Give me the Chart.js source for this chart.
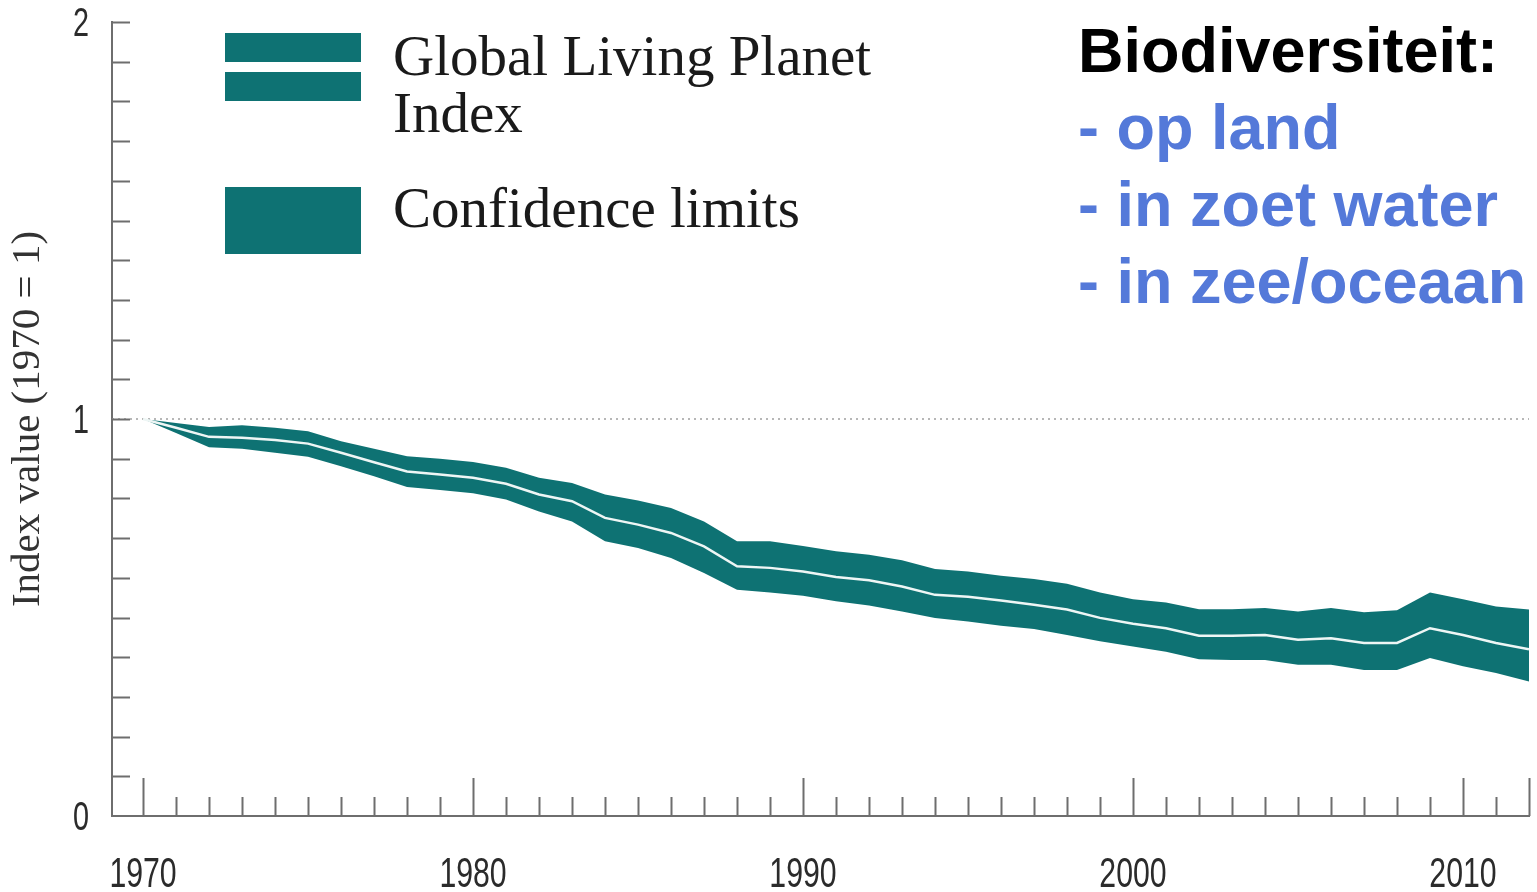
<!DOCTYPE html>
<html>
<head>
<meta charset="utf-8">
<title>Living Planet Index</title>
<script src="https://cdn.jsdelivr.net/npm/chart.js@4.4.1/dist/chart.umd.min.js"></script>
<style>
  html, body { margin: 0; padding: 0; background: #fff; }
  #wrap { position: relative; width: 1537px; height: 892px; }
  #note {
    position: absolute; left: 1078px; top: 12px;
    font: bold 63px/77px "Liberation Sans", Arial, sans-serif;
    color: #5479d9; white-space: nowrap;
  }
  #note .head { color: #000; }
</style>
</head>
<body>
<div id="wrap">
  <canvas id="lpi"></canvas>
  <div id="note">
    <div class="head">Biodiversiteit:</div>
    <div>- op land</div>
    <div>- in zoet water</div>
    <div>- in zee/oceaan</div>
  </div>
</div>
<script>
// data
var years = [1970, 1971, 1972, 1973, 1974, 1975, 1976, 1977, 1978, 1979,
  1980, 1981, 1982, 1983, 1984, 1985, 1986, 1987, 1988, 1989,
  1990, 1991, 1992, 1993, 1994, 1995, 1996, 1997, 1998, 1999,
  2000, 2001, 2002, 2003, 2004, 2005, 2006, 2007, 2008, 2009,
  2010, 2011, 2012];

var lpi = [1.000, 0.978, 0.955, 0.953, 0.947, 0.938, 0.915, 0.891, 0.868, 0.860,
  0.852, 0.837, 0.810, 0.793, 0.751, 0.734, 0.713, 0.679, 0.629, 0.625,
  0.616, 0.602, 0.594, 0.578, 0.557, 0.552, 0.543, 0.532, 0.520, 0.499,
  0.484, 0.473, 0.454, 0.454, 0.456, 0.444, 0.448, 0.436, 0.436, 0.473,
  0.456, 0.436, 0.420];

var upper = [1.000, 0.990, 0.980, 0.984, 0.978, 0.969, 0.944, 0.925, 0.906, 0.900,
  0.892, 0.877, 0.852, 0.839, 0.810, 0.795, 0.776, 0.742, 0.692, 0.692,
  0.680, 0.667, 0.658, 0.644, 0.622, 0.616, 0.605, 0.597, 0.585, 0.563,
  0.546, 0.538, 0.521, 0.521, 0.524, 0.515, 0.524, 0.513, 0.518, 0.563,
  0.546, 0.528, 0.520];

var lower = [1.000, 0.965, 0.929, 0.925, 0.915, 0.905, 0.881, 0.856, 0.829, 0.821,
  0.813, 0.797, 0.767, 0.742, 0.692, 0.675, 0.650, 0.612, 0.570, 0.563,
  0.555, 0.541, 0.530, 0.515, 0.499, 0.490, 0.479, 0.471, 0.456, 0.440,
  0.427, 0.414, 0.395, 0.393, 0.393, 0.381, 0.381, 0.368, 0.368, 0.398,
  0.377, 0.360, 0.339];

var xLabels = [1970, 1980, 1990, 2000, 2010];
var yLabels = [0, 1, 2];
var legendLpi = ["Global Living Planet", "Index"];
var legendCi = ["Confidence limits"];

var teal = "#0e7273";
var axisColor = "#6e6e6e";
var sans = "'Liberation Sans', Arial, sans-serif";
var serif = "'Liberation Serif', 'DejaVu Serif', serif";
var squeeze = 0.72; // the original tick labels use a condensed face

function points(values) {
  return years.map(function (yr, i) { return { x: yr, y: values[i] }; });
}

// inward tick marks on both axes + dotted line at index 1
var axisMarks = {
  id: "axisMarks",
  beforeDatasetsDraw: function (chart) {
    var ctx = chart.ctx, sx = chart.scales.x, sy = chart.scales.y, area = chart.chartArea;
    ctx.save();
    var y1 = sy.getPixelForValue(1);
    ctx.strokeStyle = "#a0a0a0";
    ctx.lineWidth = 1.5;
    ctx.setLineDash([2, 4]);
    ctx.beginPath();
    ctx.moveTo(area.left, y1);
    ctx.lineTo(area.right, y1);
    ctx.stroke();
    ctx.setLineDash([]);

    ctx.strokeStyle = axisColor;
    ctx.lineWidth = 2;
    ctx.beginPath();
    years.forEach(function (yr, i) {
      var px = Math.round(sx.getPixelForValue(yr)) + 0.5;
      var len = (yr % 10 === 0 || i === years.length - 1) ? 38 : 19;
      ctx.moveTo(px, area.bottom);
      ctx.lineTo(px, area.bottom - len);
    });
    for (var k = 1; k <= 20; k++) {
      var py = Math.round(sy.getPixelForValue(k / 10)) + 0.5;
      ctx.moveTo(area.left, py);
      ctx.lineTo(area.left + 18, py);
    }
    ctx.stroke();
    ctx.restore();
  }
};

// condensed tick labels, placed through the scales
var tickLabels = {
  id: "tickLabels",
  afterDraw: function (chart) {
    var ctx = chart.ctx, sx = chart.scales.x, sy = chart.scales.y, area = chart.chartArea;
    ctx.save();
    ctx.fillStyle = "#2b2b2b";
    ctx.textBaseline = "alphabetic";
    ctx.font = "42px " + sans;
    ctx.textAlign = "center";
    sx.ticks.forEach(function (t) {
      ctx.save();
      ctx.translate(sx.getPixelForValue(t.value), area.bottom + 71);
      ctx.scale(squeeze, 1);
      ctx.fillText(String(t.value), 0, 0);
      ctx.restore();
    });
    ctx.font = "40px " + sans;
    ctx.textAlign = "right";
    sy.ticks.forEach(function (t) {
      ctx.save();
      ctx.translate(area.left - 23, sy.getPixelForValue(t.value) + 14);
      ctx.scale(squeeze, 1);
      ctx.fillText(String(t.value), 0, 0);
      ctx.restore();
    });
    ctx.restore();
  }
};

// legend in the upper left, like the original
var bandLegend = {
  id: "bandLegend",
  afterDraw: function (chart) {
    var ctx = chart.ctx;
    ctx.save();
    ctx.fillStyle = teal;
    ctx.fillRect(225, 33, 136, 29);
    ctx.fillRect(225, 72, 136, 29);
    ctx.fillRect(225, 187, 136, 67);
    ctx.fillStyle = "#1a1a1a";
    ctx.font = "57px " + serif;
    ctx.textBaseline = "alphabetic";
    legendLpi.forEach(function (t, i) { ctx.fillText(t, 393, 75 + i * 57); });
    legendCi.forEach(function (t, i) { ctx.fillText(t, 393, 227 + i * 57); });
    ctx.restore();
  }
};

new Chart(document.getElementById("lpi"), {
  type: "line",
  data: {
    datasets: [
      {
        label: "Global Living Planet Index",
        data: points(lpi),
        borderWidth: 2.5,
        borderColor: "#eef6f5",
        fill: false
      },
      {
        label: "lower",
        data: points(lower),
        borderWidth: 0,
        borderColor: teal,
        fill: false
      },
      {
        label: "Confidence limits",
        data: points(upper),
        borderWidth: 0,
        borderColor: teal,
        backgroundColor: teal,
        fill: "-1"
      }
    ]
  },
  options: {
    responsive: true,
    maintainAspectRatio: false,
    animation: false,
    layout: { padding: { top: 22, right: 8, left: 0, bottom: 0 } },
    elements: { point: { radius: 0 }, line: { tension: 0 } },
    plugins: { legend: { display: false }, tooltip: { enabled: false } },
    scales: {
      x: {
        type: "linear",
        min: 1969.06,
        max: 2012,
        afterBuildTicks: function (s) { s.ticks = xLabels.map(function (v) { return { value: v }; }); },
        afterFit: function (s) { s.height = 76; },
        grid: { drawOnChartArea: false, drawTicks: false },
        border: { color: axisColor, width: 2 },
        ticks: { display: false }
      },
      y: {
        min: 0,
        max: 2,
        afterBuildTicks: function (s) { s.ticks = yLabels.map(function (v) { return { value: v }; }); },
        afterFit: function (s) { s.width = 112; },
        grid: { drawOnChartArea: false, drawTicks: false },
        border: { color: axisColor, width: 2 },
        ticks: { display: false },
        title: {
          display: true,
          text: "Index value (1970 = 1)",
          color: "#333",
          font: { family: serif, size: 41 },
          padding: { top: 4, bottom: 0 }
        }
      }
    }
  },
  plugins: [axisMarks, tickLabels, bandLegend]
});
</script>
</body>
</html>
